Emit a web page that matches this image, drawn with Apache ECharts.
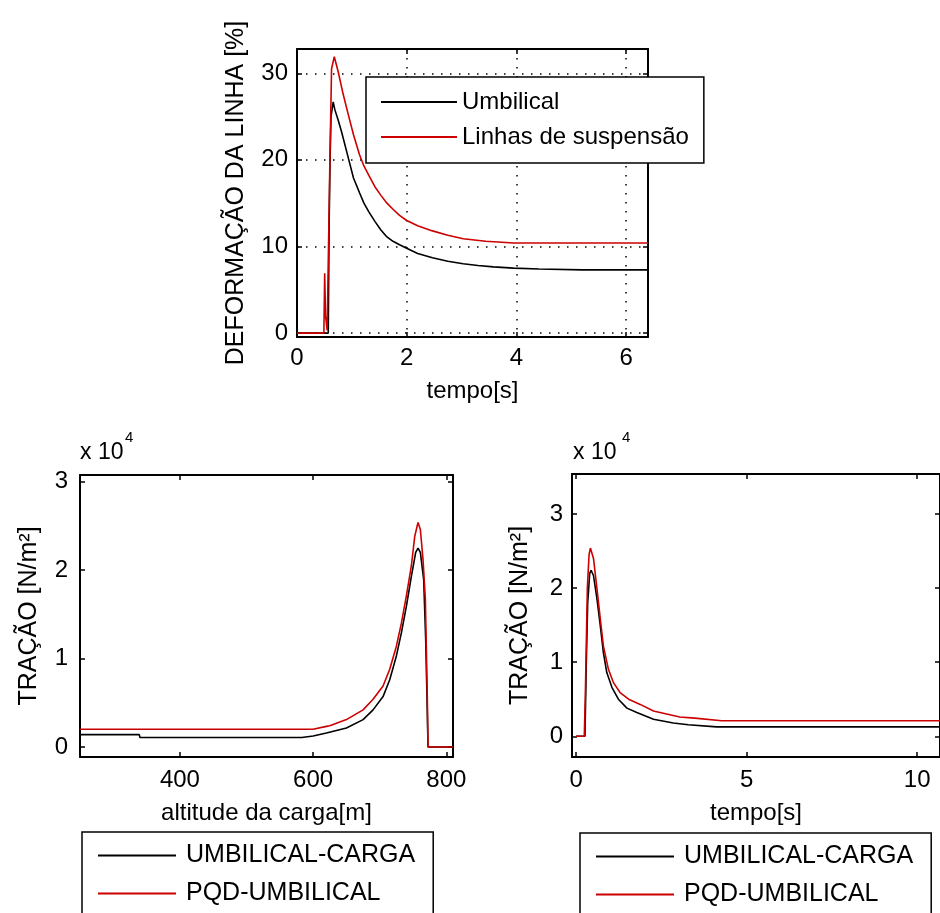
<!DOCTYPE html>
<html><head><meta charset="utf-8">
<script src="https://cdn.jsdelivr.net/npm/echarts@6/dist/echarts.min.js"></script>
<style>html,body{margin:0;padding:0;background:#fff}#c{width:940px;height:913px}</style>
</head><body><div id="c"></div>
<script>
const FONT = "'Liberation Sans', Arial, sans-serif";
const RED = '#cc0000';
const BLACK = '#000000';

// ---- top chart: DEFORMAÇÃO DA LINHA vs tempo ----
const topXTicks = [0, 2, 4, 6];
const topYTicks = [0, 10, 20, 30];
const umbTime = [0, 0.57, 0.585, 0.60, 0.62, 0.66, 0.69, 0.75, 0.81, 0.92, 1.03, 1.14, 1.22, 1.31, 1.42, 1.53, 1.64, 1.75, 1.87, 2.0, 2.2, 2.47, 2.75, 3.03, 3.3, 3.58, 3.95, 4.41, 5.2, 6.4];
const umbDef  = [0, 0, 12, 19, 25, 26.7, 25.8, 24.6, 23.3, 20.6, 17.9, 16.2, 15.0, 14.0, 12.9, 11.9, 11.1, 10.6, 10.2, 9.8, 9.2, 8.7, 8.3, 8.0, 7.8, 7.65, 7.5, 7.4, 7.3, 7.3];
const susTime = [0, 0.49, 0.505, 0.52, 0.55, 0.57, 0.60, 0.63, 0.68, 0.75, 0.83, 0.92, 1.03, 1.14, 1.22, 1.31, 1.42, 1.53, 1.64, 1.75, 1.87, 2.0, 2.2, 2.47, 2.75, 3.03, 3.44, 3.95, 6.4];
const susDef  = [0, 0, 6.9, 2.0, 0.3, 0.5, 20, 30.5, 31.9, 30.2, 27.9, 25.6, 22.9, 20.6, 19.3, 18.2, 16.9, 15.9, 15.0, 14.3, 13.6, 13.0, 12.4, 11.8, 11.3, 10.9, 10.6, 10.4, 10.4];

// ---- bottom left: TRAÇÃO vs altitude ----
const altXTicks = [400, 600, 800];
const tracYTicks = [0, 10000, 20000, 30000];
const ucAlt = [250, 339, 340, 583, 600, 620, 650, 675, 690, 705, 715, 725, 732.5, 740, 747.5, 754, 757.5, 761, 766, 769, 771, 772.5, 810];
const ucTracAlt = [1400, 1400, 1070, 1070, 1250, 1580, 2150, 3100, 4200, 5700, 7600, 10300, 12900, 15900, 19300, 22000, 22500, 22000, 18900, 12100, 5400, 0, 0];
const pqdAlt = [250, 600, 620, 625, 650, 675, 690, 705, 715, 725, 732.5, 740, 747.5, 752.5, 757.5, 761, 765, 768.5, 770, 771.5, 772.5, 810];
const pqdTracAlt = [2000, 2000, 2330, 2400, 3100, 4200, 5400, 6900, 8800, 11400, 14000, 17100, 20500, 23800, 25400, 24600, 21200, 16700, 11000, 5400, 0, 0];

// ---- bottom right: TRAÇÃO vs tempo ----
const timeXTicks = [0, 5, 10];
const ucTime = [0, 0.26, 0.30, 0.34, 0.40, 0.44, 0.51, 0.61, 0.71, 0.80, 0.90, 1.05, 1.24, 1.49, 1.78, 2.27, 2.85, 3.29, 4.12, 10.67];
const ucTracTime = [0, 0, 10000, 18000, 22000, 22400, 21700, 18600, 14900, 11300, 8600, 6600, 5000, 3800, 3200, 2300, 1800, 1550, 1270, 1270];
const pqdTime = [0, 0.24, 0.27, 0.30, 0.33, 0.38, 0.42, 0.51, 0.61, 0.71, 0.80, 0.95, 1.10, 1.29, 1.54, 1.88, 2.27, 2.46, 3.04, 3.48, 4.27, 10.67];
const pqdTracTime = [0, 0, 5400, 5400, 20000, 24500, 25400, 24000, 20000, 15800, 12200, 9000, 7200, 5900, 5000, 4300, 3400, 3200, 2600, 2450, 2100, 2100];

function pairs(xs, ys) { return xs.map((x, i) => [x, ys[i]]); }

const dotted = { show: true, lineStyle: { color: '#000', width: 1.5, type: [1.5, 7.5] } };
const axLine = { show: true, onZero: false, lineStyle: { color: '#000', width: 2 } };
const txt = { color: '#000', fontFamily: FONT, fontSize: 24 };

function mainAxis(gi, pos, min, max, ticks, opts) {
  opts = opts || {};
  return {
    type: 'value', gridIndex: gi, position: pos, min: min, max: max,
    axisLine: axLine,
    axisTick: { show: true, inside: true, length: 5, customValues: ticks, lineStyle: { color: '#000', width: 1.5 } },
    axisLabel: Object.assign({ show: true, customValues: ticks, margin: opts.margin || 9,
      formatter: opts.fmt || (v => String(v)) }, txt),
    splitLine: opts.split ? dotted : { show: false },
    name: opts.name || '', nameLocation: 'middle', nameGap: opts.nameGap || 40,
    nameTextStyle: Object.assign({}, txt, { fontSize: opts.nameSize || 24 })
  };
}
function mirrorAxis(gi, pos, min, max, ticks) {
  return {
    type: 'value', gridIndex: gi, position: pos, min: min, max: max,
    axisLine: axLine,
    axisTick: { show: true, inside: true, length: 5, customValues: ticks, lineStyle: { color: '#000', width: 1.5 } },
    axisLabel: { show: false },
    splitLine: { show: false }
  };
}
const e4 = v => String(Math.round(v / 10000));

function bottomLegend(left, top) {
  return { data: ['UMBILICAL-CARGA', 'PQD-UMBILICAL'], orient: 'vertical', left: left, top: top, height: 140,
    icon: 'rect', itemWidth: 78, itemHeight: 2, itemGap: 13, padding: [11, 18, 14, 16],
    borderColor: '#000', borderWidth: 1.5, backgroundColor: '#fff', borderRadius: 0,
    selectedMode: false, textStyle: Object.assign({}, txt, { fontSize: 25, padding: [0, 0, 0, 5] }) };
}

const option = {
  animation: false,
  backgroundColor: '#fff',
  textStyle: { fontFamily: FONT },
  grid: [
    { left: 297, top: 49, width: 351, height: 288 },
    { left: 80, top: 475, width: 373, height: 282 },
    { left: 572, top: 474, width: 369, height: 283 }
  ],
  xAxis: [
    mainAxis(0, 'bottom', 0, 6.4, topXTicks, { split: true, name: 'tempo[s]', nameGap: 42 }),
    mirrorAxis(0, 'top', 0, 6.4, topXTicks),
    mainAxis(1, 'bottom', 250, 810, altXTicks, { name: 'altitude da carga[m]', nameGap: 44, margin: 11 }),
    mirrorAxis(1, 'top', 250, 810, altXTicks),
    mainAxis(2, 'bottom', -0.12, 10.67, timeXTicks, { name: 'tempo[s]', nameGap: 44, margin: 11 }),
    mirrorAxis(2, 'top', -0.12, 10.67, timeXTicks)
  ],
  yAxis: [
    mainAxis(0, 'left', -0.45, 32.8, topYTicks, { split: true, name: 'DEFORMAÇÃO DA LINHA [%]', nameGap: 48, nameSize: 25 }),
    mirrorAxis(0, 'right', -0.45, 32.8, topYTicks),
    mainAxis(1, 'left', -1130, 30760, tracYTicks, { name: 'TRAÇÃO [N/m²]', nameGap: 38, nameSize: 25, fmt: e4, margin: 12 }),
    mirrorAxis(1, 'right', -1130, 30760, tracYTicks),
    mainAxis(2, 'left', -2800, 35400, tracYTicks, { name: 'TRAÇÃO [N/m²]', nameGap: 39, nameSize: 25, fmt: e4, margin: 9 }),
    mirrorAxis(2, 'right', -2800, 35400, tracYTicks)
  ],
  legend: [
    { data: ['Umbilical', 'Linhas de suspensão'], orient: 'vertical', left: 366, top: 77,
      icon: 'rect', itemWidth: 76, itemHeight: 2, itemGap: 11, padding: [13, 15, 14, 15],
      borderColor: '#000', borderWidth: 1.5, backgroundColor: '#fff', borderRadius: 0,
      selectedMode: false, textStyle: Object.assign({}, txt) },
    bottomLegend(82, 832),
    bottomLegend(580, 833)
  ],
  graphic: [
    { type: 'text', left: 80, top: 441, style: { text: 'x 10', fill: '#000', font: '23px ' + FONT } },
    { type: 'text', left: 125, top: 430, style: { text: '4', fill: '#000', font: '15px ' + FONT } },
    { type: 'text', left: 573, top: 441, style: { text: 'x 10', fill: '#000', font: '23px ' + FONT } },
    { type: 'text', left: 622, top: 430, style: { text: '4', fill: '#000', font: '15px ' + FONT } }
  ],
  series: [
    { type: 'line', name: 'Umbilical', xAxisIndex: 0, yAxisIndex: 0, data: pairs(umbTime, umbDef),
      symbol: 'none', lineStyle: { color: BLACK, width: 1.6 }, itemStyle: { color: BLACK } },
    { type: 'line', name: 'Linhas de suspensão', xAxisIndex: 0, yAxisIndex: 0, data: pairs(susTime, susDef),
      symbol: 'none', lineStyle: { color: RED, width: 1.6 }, itemStyle: { color: RED } },
    { type: 'line', name: 'UMBILICAL-CARGA', xAxisIndex: 2, yAxisIndex: 2, data: pairs(ucAlt, ucTracAlt),
      symbol: 'none', lineStyle: { color: BLACK, width: 1.6 }, itemStyle: { color: BLACK } },
    { type: 'line', name: 'PQD-UMBILICAL', xAxisIndex: 2, yAxisIndex: 2, data: pairs(pqdAlt, pqdTracAlt),
      symbol: 'none', lineStyle: { color: RED, width: 1.6 }, itemStyle: { color: RED } },
    { type: 'line', name: 'UMBILICAL-CARGA', xAxisIndex: 4, yAxisIndex: 4, data: pairs(ucTime, ucTracTime),
      symbol: 'none', lineStyle: { color: BLACK, width: 1.6 }, itemStyle: { color: BLACK } },
    { type: 'line', name: 'PQD-UMBILICAL', xAxisIndex: 4, yAxisIndex: 4, data: pairs(pqdTime, pqdTracTime),
      symbol: 'none', lineStyle: { color: RED, width: 1.6 }, itemStyle: { color: RED } }
  ]
};
const chart = echarts.init(document.getElementById('c'), null, { renderer: 'canvas' });
chart.setOption(option);
</script>
</body></html>
